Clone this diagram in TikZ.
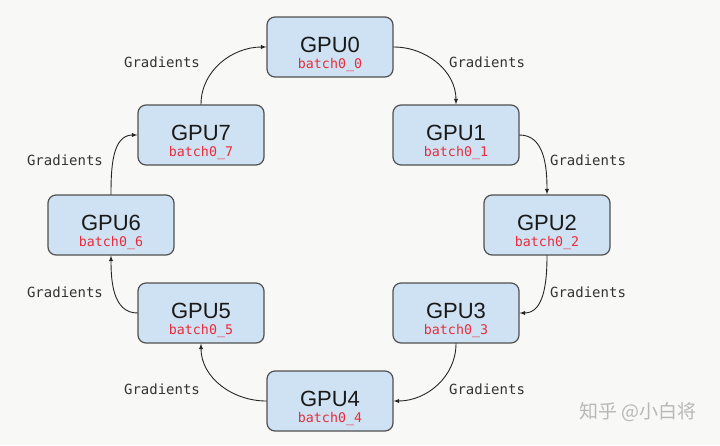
\documentclass[tikz,border=0pt]{standalone}
\usepackage{fontspec}
\setmainfont{Liberation Sans}
\setmonofont{DejaVu Sans Mono}
\newfontfamily\cjk{Noto Sans CJK SC}
\definecolor{paper}{RGB}{248,248,246}
\definecolor{boxblue}{RGB}{207,226,243}
\definecolor{boxline}{RGB}{80,80,80}
\definecolor{batchred}{RGB}{232,44,60}
\begin{document}
\begin{tikzpicture}[x=1pt,y=1pt,>=latex,line cap=round,
  gpu/.style={draw=boxline,line width=1.2pt,fill=boxblue,rounded corners=8pt,
    minimum width=126pt,minimum height=60pt,inner sep=0pt},
  gpuname/.style={anchor=base,inner sep=0pt,font=\fontsize{22}{22}\selectfont,text=black!90},
  batch/.style={anchor=base,inner sep=0pt,font=\fontsize{13.3}{13.3}\ttfamily,text=batchred},
  grad/.style={font=\fontsize{14}{14}\ttfamily,text=black!80}]
\fill[paper] (0,0) rectangle (720,-445);
\useasboundingbox (0,0) rectangle (720,-445);
% the eight workers of the ring
\foreach \i/\x/\y in {0/330/47,1/456/135,2/547/225,3/456/313,4/330/401,5/201/313,6/111/225,7/201/135}{
  \node[gpu] (g\i) at (\x,-\y) {};
  \node[gpuname] (n\i) at ([yshift=-5pt]g\i.center) {GPU\i};
  \node[batch] (b\i) at ([yshift=-21pt]g\i.center) {batch0\_\i};
}
\foreach \j/\x/\y in {0/162/62,1/487/62,2/588/160,3/588/292,4/487/389,5/162/389,6/65/292,7/65/160}
  \node[grad] (l\j) at (\x,-\y) {Gradients};
% gradients passed around the ring
\foreach \a/\b/\s/\e/\o/\n in {0/1/east/north/0/90,1/2/east/north/0/90,2/3/south/east/-90/0,3/4/south/east/-90/0,
    4/5/west/south/180/-90,5/6/west/south/180/-90,6/7/north/west/90/180,7/0/north/west/90/180}
  \draw[->,line width=0.9pt,black!85] (g\a.\s) to[out=\o,in=\n] (g\b.\e);
\node[text=black!28] (mark) at (638,-412) {\fontsize{19}{19}\cjk 知乎\ @小白将};
\end{tikzpicture}
\end{document}
